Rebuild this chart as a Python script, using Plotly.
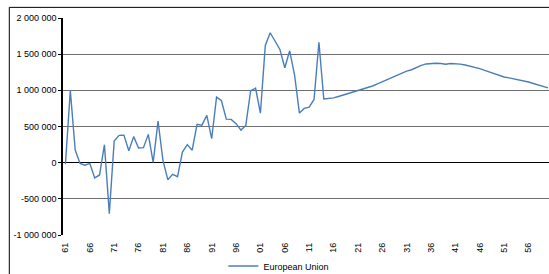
import plotly.graph_objects as go

years = list(range(1961, 2061))
values = [
    -20000, 1000000, 175000, -10000, -35000, -10000, -210000, -170000, 248000, -705000,   # 1961-1970
    298000, 377000, 381000, 165000, 360000, 202000, 207000, 391000, 5000, 575000,          # 1971-1980
    32000, -235000, -162000, -193000, 146000, 249000, 172000, 529000, 519000, 653000,      # 1981-1990
    331000, 906000, 856000, 602000, 598000, 539000, 450000, 515000, 994000, 1030000,      # 1991-2000
    685000, 1620000, 1796000, 1685000, 1565000, 1312000, 1547000, 1215000, 685000, 750000,  # 2001-2010
    768000, 874000, 1665000, 880000, 885000, 895000, 915000, 935000, 950000, 970000,      # 2011-2020
    990000, 1010000, 1035000, 1060000, 1090000, 1120000, 1150000, 1180000, 1210000, 1240000,  # 2021-2030
    1265000, 1285000, 1320000, 1345000, 1365000, 1375000, 1375000, 1370000, 1360000, 1370000,  # 2031-2040
    1368000, 1362000, 1350000, 1335000, 1318000, 1300000, 1275000, 1250000, 1225000, 1200000,  # 2041-2050
    1185000, 1172000, 1160000, 1145000, 1130000, 1115000, 1095000, 1075000, 1055000, 1035000,  # 2051-2060
]
series_name = "European Union"

x_tick_years = list(range(1961, 2060, 5))
x_tick_text = [f"{y % 100:02d}" for y in x_tick_years]
y_tick_vals = [-1000000, -500000, 0, 500000, 1000000, 1500000, 2000000]
y_tick_text = ["-1 000 000", "-500 000", "0", "500 000", "1 000 000", "1 500 000", "2 000 000"]

FONT = "Liberation Sans, Arial, sans-serif"

fig = go.Figure()
fig.add_trace(go.Scatter(
    x=years, y=values, mode="lines", name=series_name,
    line=dict(color="#4A7EBB", width=1.4),
))

fig.update_layout(
    width=549, height=274,
    margin=dict(l=63, r=0, t=18, b=39, autoexpand=False),
    paper_bgcolor="white", plot_bgcolor="white",
    font=dict(family=FONT, size=9, color="#000000"),
    showlegend=True,
    legend=dict(
        orientation="h", x=0.33, y=-0.143, xanchor="left", yanchor="middle",
        font=dict(size=9), bgcolor="rgba(0,0,0,0)",
    ),
    xaxis=dict(
        range=[1960.5, 2060.2], automargin=False,
        tickmode="array", tickvals=x_tick_years, ticktext=x_tick_text,
        tickangle=-90, showgrid=False, zeroline=False,
        showline=False, ticks="", ticklabelstandoff=5,
        tickfont=dict(size=9),
    ),
    yaxis=dict(
        range=[-1000000, 2000000], automargin=False,
        tickmode="array", tickvals=y_tick_vals, ticktext=y_tick_text,
        showgrid=True, gridcolor="#6f6f6f", gridwidth=1.4,
        zeroline=True, zerolinecolor="#000000", zerolinewidth=1.3,
        showline=True, linecolor="#000000", linewidth=1.5,
        ticks="outside", ticklen=3, tickcolor="#000000",
        tickfont=dict(size=9),
    ),
    shapes=[dict(
        type="rect", xref="paper", yref="paper",
        x0=-0.1105, x1=1.02, y0=-0.25, y1=1.049,
        line=dict(color="#000000", width=1), fillcolor="rgba(0,0,0,0)", layer="below",
    )],
)

fig.write_html(
    "out.html",
    config={"displayModeBar": False},
    post_script="document.body.style.margin='0px';document.body.style.overflow='hidden';",
)
